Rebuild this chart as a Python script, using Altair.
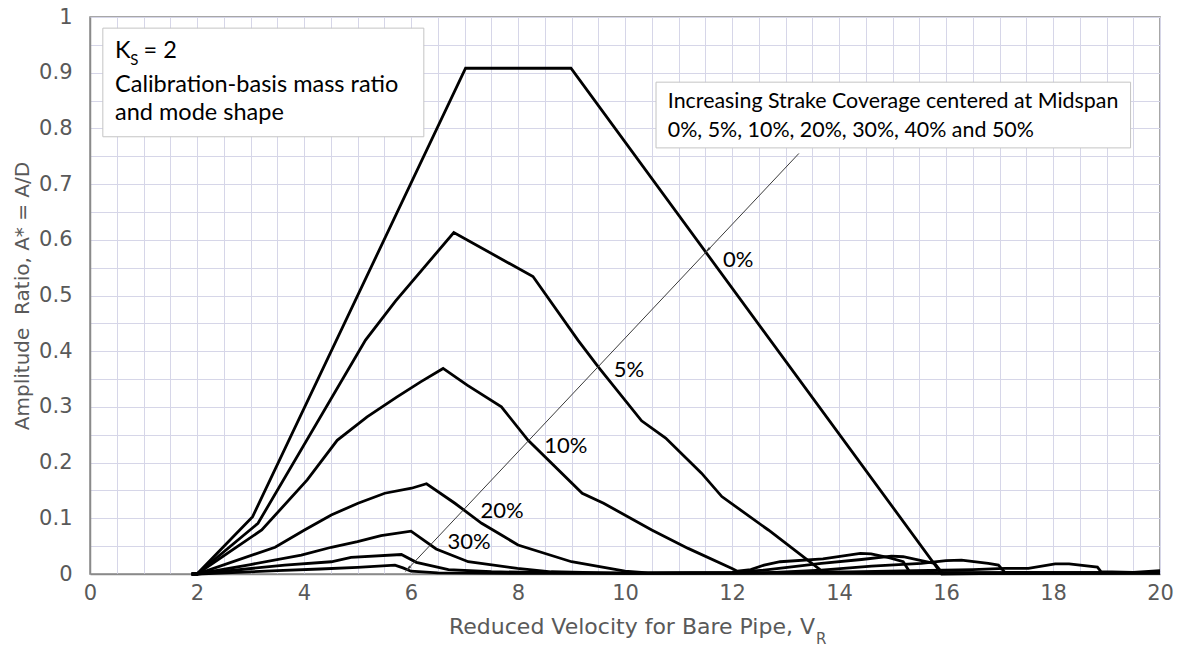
import altair as alt
import pandas as pd

# ---------------- data ----------------
x_0 = [1.9, 2.0, 3.04, 7.02, 8.99, 15.92, 17.0, 20.0]
y_0 = [0.0, 0.0, 0.103, 0.908, 0.908, 0.0, 0.001, 0.002]

x_5 = [1.9, 2.0, 3.14, 5.15, 5.71, 6.8, 8.28, 9.12, 9.5, 10.31, 10.76, 11.43, 11.81, 12.68, 13.7, 14.5, 20.0]
y_5 = [0.0, 0.0, 0.091, 0.42, 0.49, 0.613, 0.534, 0.42, 0.372, 0.275, 0.244, 0.181, 0.139, 0.079, 0.004, 0.002, 0.002]

x_10 = [1.9, 2.0, 3.21, 4.06, 4.62, 5.18, 5.74, 6.18, 6.6, 7.05, 7.69, 8.19, 9.2, 9.6, 10.5, 11.18, 12.0, 12.1,
        12.35, 12.6, 12.9, 13.7, 14.4, 14.6, 14.95, 15.2, 15.32, 16.0, 20.0]
y_10 = [0.0, 0.0, 0.079, 0.169, 0.24, 0.282, 0.318, 0.345, 0.369, 0.339, 0.30, 0.24, 0.145, 0.127, 0.079, 0.046, 0.010, 0.005,
        0.008, 0.016, 0.022, 0.027, 0.037, 0.036, 0.029, 0.022, 0.004, 0.002, 0.002]

x_20 = [1.9, 2.0, 3.46, 4.01, 4.51, 5.01, 5.51, 6.01, 6.29, 6.82, 7.32, 7.69, 8.0, 9.0, 10.0, 10.43, 12.0, 12.6,
        13.67, 14.42, 14.98, 15.2, 15.54, 15.79, 15.92, 16.5, 20.0]
y_20 = [0.0, 0.0, 0.048, 0.079, 0.106, 0.127, 0.145, 0.154, 0.162, 0.127, 0.091, 0.070, 0.052, 0.022, 0.005, 0.002, 0.003, 0.007,
        0.019, 0.026, 0.032, 0.031, 0.024, 0.019, 0.003, 0.002, 0.002]

x_30 = [1.9, 2.0, 3.0, 3.95, 4.51, 5.0, 5.44, 6.0, 6.47, 7.07, 7.99, 8.62, 10.0, 12.6, 13.67, 14.61, 15.54, 16.0,
        16.29, 16.79, 16.98, 17.1, 18.0, 20.0]
y_30 = [0.0, 0.0, 0.017, 0.034, 0.048, 0.058, 0.069, 0.077, 0.045, 0.022, 0.010, 0.004, 0.001, 0.002, 0.007, 0.014, 0.019, 0.024,
        0.025, 0.019, 0.016, 0.003, 0.002, 0.002]

x_40 = [1.9, 2.0, 3.64, 4.51, 4.88, 5.82, 6.1, 6.7, 7.5, 9.0, 12.0, 13.67, 15.42, 16.5, 17.1, 17.54, 18.04, 18.3,
        18.83, 18.9, 19.5, 20.0]
y_40 = [0.0, 0.0, 0.016, 0.022, 0.030, 0.035, 0.021, 0.008, 0.004, 0.002, 0.002, 0.003, 0.006, 0.008, 0.010, 0.010, 0.018, 0.018,
        0.0125, 0.004, 0.003, 0.006]

x_50 = [1.9, 2.0, 3.5, 4.3, 5.0, 5.7, 5.85, 6.0, 6.5, 8.0, 12.0, 16.0, 20.0]
y_50 = [0.0, 0.0, 0.006, 0.009, 0.012, 0.016, 0.011, 0.005, 0.002, 0.001, 0.001, 0.001, 0.002]

series_names = ["0%", "5%", "10%", "20%", "30%", "40%", "50%"]
series_x = [x_0, x_5, x_10, x_20, x_30, x_40, x_50]
series_y = [y_0, y_5, y_10, y_20, y_30, y_40, y_50]

# curve labels (left x, baseline y)
label_text = ["0%", "5%", "10%", "20%", "30%"]
label_x = [11.83, 9.79, 8.49, 7.30, 6.68]
label_y = [0.552, 0.354, 0.217, 0.100, 0.044]

# arrow (top end -> tip)
arrow_x = [13.25]
arrow_y = [0.755]
arrow_x2 = [5.95]
arrow_y2 = [0.010]
head_x = [5.95, 11.55]
head_y = [0.010, 0.582]

# annotation boxes
box_x = [0.24, 10.58]
box_x2 = [6.24, 19.45]
box_y = [0.785, 0.765]
box_y2 = [0.980, 0.883]

legend_text = ["K", "= 2", "Calibration-basis mass ratio", "and mode shape"]
legend_x = [0.468, 1.0, 0.468, 0.468]
legend_y = [0.926, 0.926, 0.866, 0.815]
sub_text = ["S"]
sub_x = [0.75]
sub_y = [0.914]

note_text = ["Increasing Strake Coverage centered at Midspan", "0%,  5%, 10%, 20%, 30%, 40% and 50%"]
note_x = [10.80, 10.80]
note_y = [0.837, 0.785]

x_ticks = [i * 0.5 for i in range(41)]
y_ticks = [round(i * 0.05, 2) for i in range(21)]

# ---------------- tables ----------------
rows = []
for name, xs, ys in zip(series_names, series_x, series_y):
    for i, (a, b) in enumerate(zip(xs, ys)):
        rows.append({"series": name, "x": a, "y": b, "i": i})
lines_df = pd.DataFrame(rows)
labels_df = pd.DataFrame({"t": label_text, "x": label_x, "y": label_y})
arrow_df = pd.DataFrame({"x": arrow_x, "y": arrow_y, "x2": arrow_x2, "y2": arrow_y2})
heads_df = pd.DataFrame({"x": head_x, "y": head_y})
box_df = pd.DataFrame({"x": box_x, "x2": box_x2, "y": box_y, "y2": box_y2})
legend_df = pd.DataFrame({"t": legend_text, "x": legend_x, "y": legend_y})
note_df = pd.DataFrame({"t": note_text, "x": note_x, "y": note_y})
sub_df = pd.DataFrame({"t": sub_text, "x": sub_x, "y": sub_y})

W, H = 1070, 557
grid_color = "#d6d6e8"
axis_color = "#8a8a8a"
label_color = "#595959"
AX_FONT = "DejaVu Sans"
TX_FONT = "Lato"

xscale = alt.Scale(domain=[0, 20], nice=False, zero=False)
yscale = alt.Scale(domain=[0, 1], nice=False, zero=False)

x_axis = alt.Axis(values=x_ticks, grid=True, gridColor=grid_color, gridWidth=1, ticks=False,
                  domainColor=axis_color, domainWidth=1.5,
                  labelExpr="round(datum.value*2) % 4 == 0 ? format(datum.value, 'd') : ''",
                  labelFont=AX_FONT, labelFontSize=21, labelColor=label_color, labelPadding=8,
                  labelOverlap=False, labelFlush=False, title=None)
y_axis = alt.Axis(values=y_ticks, grid=True, gridColor=grid_color, gridWidth=1, ticks=False,
                  domainColor=axis_color, domainWidth=1.5,
                  labelExpr="round(datum.value*20) % 2 == 0 ? format(datum.value, '.1~f') : ''",
                  labelFont=AX_FONT, labelFontSize=21, labelColor=label_color, labelPadding=18,
                  labelOverlap=False, labelFlush=False,
                  title="Amplitude\u00a0 Ratio, A* = A/D", titleFont=AX_FONT, titleFontSize=20,
                  titleFontWeight="normal", titleColor=label_color, titleX=-68, titleY=H / 2,
                  titleAngle=-90, titleAlign="center", titleBaseline="middle")

X = alt.X("x:Q", scale=xscale, axis=x_axis)
Y = alt.Y("y:Q", scale=yscale, axis=y_axis)

boxes = alt.Chart(box_df).mark_rect(fill="white", stroke="#c4c4c4", strokeWidth=1).encode(
    x=X, x2="x2:Q", y=Y, y2="y2:Q")

lines = alt.Chart(lines_df).mark_line(color="black", strokeWidth=2.8).encode(
    x=X, y=Y, detail="series:N", order="i:Q")

arrow = alt.Chart(arrow_df).mark_rule(color="#3a3a3a", strokeWidth=1).encode(
    x=X, y=Y, x2="x2:Q", y2="y2:Q")

heads = alt.Chart(heads_df).mark_point(shape="wedge", filled=True, color="#3a3a3a", size=90,
                                       angle=223, opacity=1).encode(x=X, y=Y)

labels = alt.Chart(labels_df).mark_text(font=TX_FONT, fontSize=22, color="black", align="left",
                                        baseline="alphabetic").encode(x=X, y=Y, text="t:N")

legend = alt.Chart(legend_df).mark_text(font=TX_FONT, fontSize=23.5, color="black", align="left",
                                        baseline="alphabetic").encode(x=X, y=Y, text="t:N")
subs = alt.Chart(sub_df).mark_text(font=TX_FONT, fontSize=15, color="black", align="left",
                                   baseline="alphabetic").encode(x=X, y=Y, text="t:N")
notes = alt.Chart(note_df).mark_text(font=TX_FONT, fontSize=21.4, color="black", align="left",
                                     baseline="alphabetic").encode(x=X, y=Y, text="t:N")

xtitle = alt.Chart(pd.DataFrame({"t": ["Reduced Velocity for Bare Pipe, V"]})).mark_text(
    font=AX_FONT, fontSize=22, color=label_color, align="right", baseline="alphabetic").encode(
    x=alt.value(725), y=alt.value(617), text="t:N")
xsub = alt.Chart(pd.DataFrame({"t": ["R"]})).mark_text(
    font=AX_FONT, fontSize=15, color=label_color, align="left", baseline="alphabetic").encode(
    x=alt.value(726), y=alt.value(627), text="t:N")

chart = alt.layer(boxes, lines, arrow, heads, labels, legend, subs, notes, xtitle, xsub).properties(
    width=W, height=H,
    padding={"left": 90, "top": 17, "right": 17, "bottom": 78},
    autosize=alt.AutoSizeParams(type="none"),
    background="white",
).configure_view(stroke=axis_color, strokeWidth=1.5)

chart.save("out.html", embed_options={"renderer": "svg", "actions": False})
